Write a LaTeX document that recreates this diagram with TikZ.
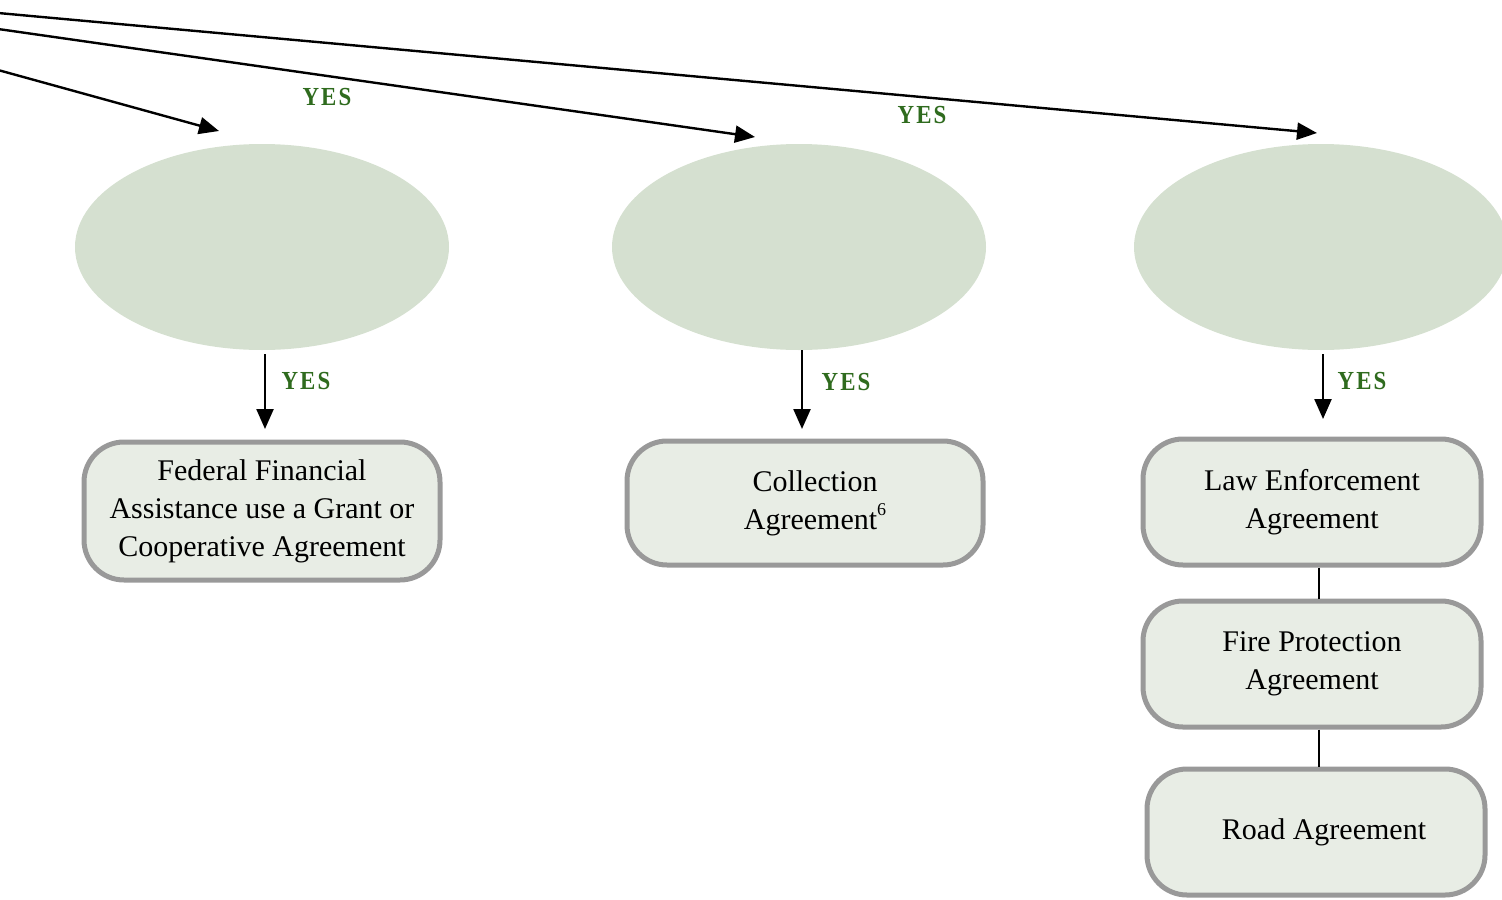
\documentclass[tikz,border=0pt]{standalone}
\usepackage{fontspec}
\setmainfont{Liberation Serif}
\newfontfamily\yesfont[FakeStretch=0.88,LetterSpace=8]{Liberation Serif}
\usetikzlibrary{shapes.geometric,arrows.meta}
\definecolor{ellfill}{HTML}{D5E0D0}
\definecolor{boxfill}{HTML}{E8EDE5}
\definecolor{boxline}{HTML}{999999}
\definecolor{yesgreen}{HTML}{2F6B1E}
\tikzset{
  oval/.style={ellipse, fill=ellfill, draw=none, minimum width=187pt, minimum height=103pt},
  agree/.style={rectangle, rounded corners=20pt, fill=boxfill, draw=boxline, line width=2.5pt,
    align=center, font=\fontsize{15}{19}\selectfont, inner sep=2pt},
  yeslab/.style={text=yesgreen, font=\yesfont\bfseries\fontsize{13}{14}\selectfont, inner sep=0pt},
  conn/.style={line width=1.2pt, -{Triangle[length=10pt,width=8.5pt]}},
  plain/.style={line width=1.2pt}
}
\newcommand{\supsix}{\raisebox{0.45em}{\fontsize{9}{9}\selectfont 6}}
\begin{document}
\begin{tikzpicture}[x=0.5pt,y=-0.5pt]
\useasboundingbox (0,0) rectangle (1502,899);
\clip (0,0) rectangle (1502,899);
% ellipses
\node[oval] (e1) at (262,247) {};
\node[oval] (e2) at (799,247) {};
\node[oval] (e3) at (1321,247) {};
% boxes
\node[agree, minimum width=178pt, minimum height=69pt] (b1) at (262,511)
  {Federal Financial\\Assistance use a Grant or\\Cooperative Agreement};
\node[agree, minimum width=178pt, minimum height=62pt] (b2) at (805,503)
  {\hspace*{10pt}Collection\\\hspace*{10pt}Agreement\supsix};
\node[agree, minimum width=169pt, minimum height=63pt] (b3) at (1312,502)
  {Law Enforcement\\Agreement};
\node[agree, minimum width=169pt, minimum height=63pt] (b4) at (1312,664)
  {Fire Protection\\Agreement};
\node[agree, minimum width=169pt, minimum height=63pt] (b5) at (1316,832)
  {\hspace*{8pt}Road Agreement};
% top arrows
\coordinate (s1) at (-2,70);
\coordinate (t1) at (219,131);
\coordinate (s2) at (-2,29);
\coordinate (t2) at (755,137);
\coordinate (s3) at (-2,13);
\coordinate (t3) at (1317,133);
\draw[conn] (s1) -- (t1);
\draw[conn] (s2) -- (t2);
\draw[conn] (s3) -- (t3);
% vertical arrows
\coordinate (v1) at (265,354);
\coordinate (w1) at (265,429);
\coordinate (v2) at (802,350);
\coordinate (w2) at (802,429);
\coordinate (v3) at (1323,354);
\coordinate (w3) at (1323,419);
\draw[conn] (v1) -- (w1);
\draw[conn] (v2) -- (w2);
\draw[conn] (v3) -- (w3);
% connectors between stacked boxes
\draw[plain] ([xshift=3.5pt]b3.south) -- ([xshift=3.5pt]b4.north);
\draw[plain] ([xshift=3.5pt]b4.south) -- ([xshift=1.5pt]b5.north);
% YES labels
\node[yeslab] (y1) at (327,97) {YES};
\node[yeslab] (y2) at (922,115) {YES};
\node[yeslab] (y3) at (306,381) {YES};
\node[yeslab] (y4) at (846,382) {YES};
\node[yeslab] (y5) at (1362,381) {YES};
\end{tikzpicture}
\end{document}
